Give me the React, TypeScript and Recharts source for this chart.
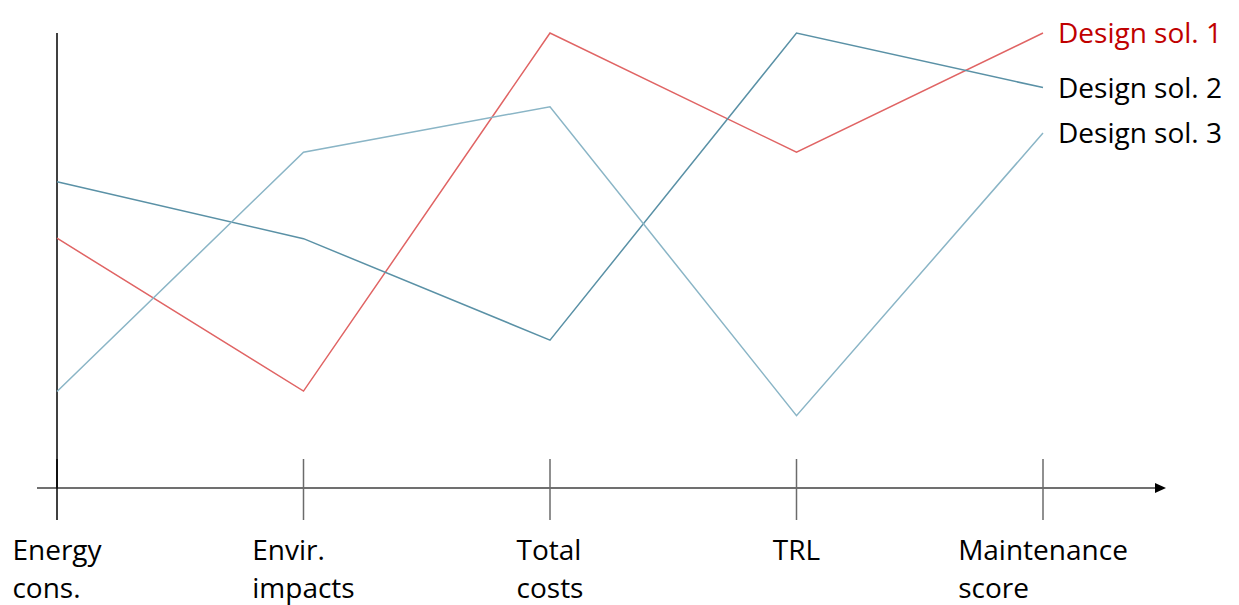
import { LineChart, Line, XAxis, YAxis, ReferenceLine, LabelList } from 'recharts';

const categories = ['Energy cons.', 'Envir. impacts', 'Total costs', 'TRL', 'Maintenance score'];
const seriesNames = ['Design sol. 1', 'Design sol. 2', 'Design sol. 3'];
const sol1 = [5.49, 2.13, 10, 7.38, 10];
const sol2 = [6.73, 5.48, 3.25, 10, 8.8];
const sol3 = [2.12, 7.38, 8.38, 1.59, 7.8];

const FONT = '"Open Sans", sans-serif';

const data = categories.map((name, i) => ({
  name,
  sol1: sol1[i],
  sol2: sol2[i],
  sol3: sol3[i],
}));

// measure text width so multi-line labels can be centered as a left-aligned block
let ctx: CanvasRenderingContext2D | null = null;
function textWidth(s: string) {
  if (!ctx) ctx = document.createElement('canvas').getContext('2d');
  if (!ctx) return s.length * 15;
  ctx.font = `28px ${FONT}`;
  return ctx.measureText(s).width;
}

function CategoryTick({ x, y, payload, index }: any) {
  const lines = String(payload.value).split(' ');
  const w = Math.max(...lines.map(textWidth));
  // first tick sits on the y axis, so it keeps the axis colour
  const color = index === 0 ? '#000' : '#6b6b6b';
  return (
    <g>
      <line x1={x} x2={x} y1={y - 29} y2={y + 32} stroke={color} strokeWidth={1.5} />
      <text x={x - w / 2} y={y} fontFamily={FONT} fontSize={28} fill="#000" textAnchor="start">
        {lines.map((l, i) => (
          <tspan key={i} x={x - w / 2} dy={i === 0 ? 72 : 38}>
            {l}
          </tspan>
        ))}
      </text>
    </g>
  );
}

function endLabel(name: string, color: string) {
  return (props: any) => {
    const { x, y, index } = props;
    if (index !== categories.length - 1) return null;
    return (
      <text
        x={x + 15}
        y={y}
        dy={10}
        fontFamily={FONT}
        fontSize={28}
        fill={color}
        textAnchor="start"
      >
        {name}
      </text>
    );
  };
}

export default function App() {
  return (
    <div style={{ position: 'absolute', left: 0, top: 0, background: '#fff' }}>
      <LineChart
        width={1239}
        height={605}
        data={data}
        margin={{ top: 33, right: 84, left: 37, bottom: 0 }}
      >
        <defs>
          <marker
            id="axisArrow"
            markerWidth={11}
            markerHeight={10}
            refX={0}
            refY={5}
            orient="auto"
            markerUnits="userSpaceOnUse"
          >
            <path d="M0,0 L11,5 L0,10 z" fill="#000" />
          </marker>
        </defs>
        <XAxis
          dataKey="name"
          height={117}
          padding={{ left: 20, right: 112 }}
          axisLine={{ stroke: '#404040', strokeWidth: 1.5, markerEnd: 'url(#axisArrow)' }}
          tickLine={false}
          tickSize={0}
          tickMargin={0}
          interval={0}
          tick={<CategoryTick />}
        />
        <YAxis hide domain={[0, 10]} />
        <ReferenceLine x="Energy cons." stroke="#000" strokeWidth={1.5} />
        <Line
          type="linear"
          dataKey="sol1"
          stroke="#e06464"
          strokeWidth={1.5}
          dot={false}
          isAnimationActive={false}
        >
          <LabelList dataKey="sol1" content={endLabel(seriesNames[0], '#c00000')} />
        </Line>
        <Line
          type="linear"
          dataKey="sol2"
          stroke="#5a91a6"
          strokeWidth={1.5}
          dot={false}
          isAnimationActive={false}
        >
          <LabelList dataKey="sol2" content={endLabel(seriesNames[1], '#000')} />
        </Line>
        <Line
          type="linear"
          dataKey="sol3"
          stroke="#8ab5c6"
          strokeWidth={1.5}
          dot={false}
          isAnimationActive={false}
        >
          <LabelList dataKey="sol3" content={endLabel(seriesNames[2], '#000')} />
        </Line>
      </LineChart>
    </div>
  );
}
